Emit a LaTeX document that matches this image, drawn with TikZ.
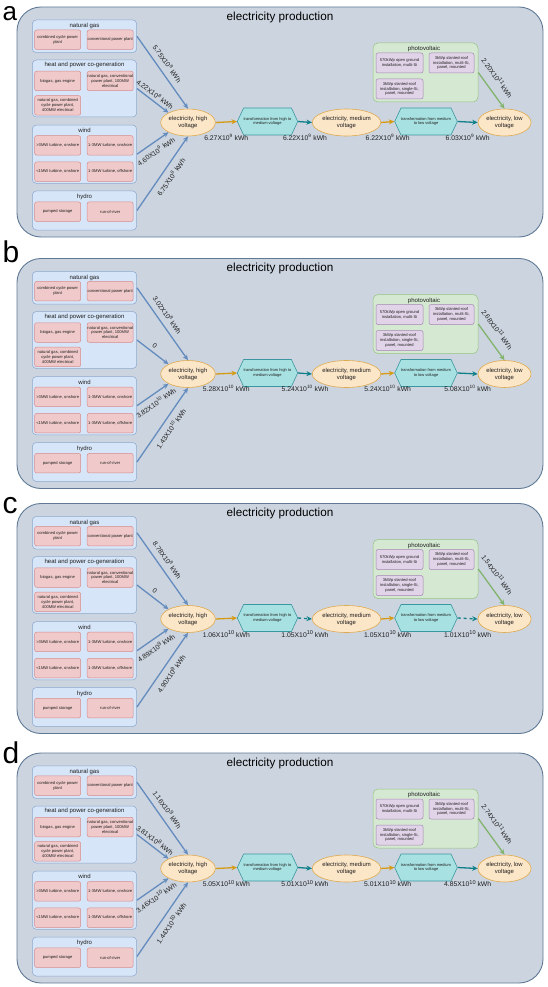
\documentclass[tikz,border=0pt]{standalone}
\usepackage{fontspec}
\setmainfont{Liberation Sans}
\usetikzlibrary{arrows.meta,shapes.geometric,shapes.symbols}
\definecolor{frameFill}{RGB}{204,212,223}
\definecolor{frameDraw}{RGB}{96,122,150}
\definecolor{grpFill}{RGB}{214,229,247}
\definecolor{grpDraw}{RGB}{140,168,205}
\definecolor{redFill}{RGB}{240,202,202}
\definecolor{redDraw}{RGB}{214,140,140}
\definecolor{pvFill}{RGB}{212,232,210}
\definecolor{pvDraw}{RGB}{150,195,130}
\definecolor{purFill}{RGB}{225,212,232}
\definecolor{purDraw}{RGB}{165,135,180}
\definecolor{ellFill}{RGB}{252,230,200}
\definecolor{ellDraw}{RGB}{222,170,80}
\definecolor{hexFill}{RGB}{168,225,226}
\definecolor{hexDraw}{RGB}{60,150,160}
\definecolor{arrBlue}{RGB}{100,140,190}
\definecolor{arrOrange}{RGB}{214,155,20}
\definecolor{arrTeal}{RGB}{16,128,136}
\definecolor{arrGreen}{RGB}{130,180,110}
\definecolor{txt}{RGB}{30,30,30}
\newcommand{\myexp}[1]{\textsuperscript{#1}}
\newcommand{\myexpB}[1]{\raisebox{2.6pt}{\fontsize{5.6}{6}\selectfont #1}}
\tikzset{
 frame/.style={draw=frameDraw, fill=frameFill, line width=0.9pt, rounded corners=24pt, minimum width=526pt, minimum height=230pt, inner sep=0pt},
 ptitle/.style={font=\fontsize{11.7}{14}\selectfont, inner sep=0pt, text=black},
 plet/.style={font=\fontsize{30}{30}\selectfont, inner sep=0pt, anchor=base west, text=black},
 grp/.style={draw=grpDraw, fill=grpFill, line width=0.5pt, rounded corners=4pt, minimum width=104.4pt, inner sep=0pt},
 gtitle/.style={font=\fontsize{6}{7}\selectfont, inner sep=0pt, text=txt},
 rbox/.style={draw=redDraw, fill=redFill, line width=0.5pt, rounded corners=2pt, minimum width=46pt, minimum height=19.5pt, inner sep=0pt, align=center, font=\fontsize{4.1}{4.9}\selectfont, text=txt},
 pbox/.style={rbox, draw=purDraw, fill=purFill, minimum height=20pt},
 pvgrp/.style={draw=pvDraw, fill=pvFill, line width=0.5pt, rounded corners=5pt, minimum width=105pt, minimum height=59pt, inner sep=0pt},
 ell/.style={ellipse, draw=ellDraw, fill=ellFill, line width=0.6pt, minimum width=52pt, minimum height=27pt, inner sep=0pt, align=center, font=\fontsize{5.9}{7}\selectfont, text=txt},
 hexa/.style={signal, signal to=east and west, signal pointer angle=130, draw=hexDraw, fill=hexFill, line width=0.6pt, minimum width=51pt, minimum height=27pt, inner sep=0pt, align=center, font=\fontsize{4}{4.8}\selectfont, text=txt},
 conn/.style={line width=1.3pt, -{Stealth[length=5.5pt,width=5pt]}},
 bluearr/.style={conn, draw=arrBlue},
 orangearr/.style={conn, draw=arrOrange},
 tealarr/.style={conn, draw=arrTeal},
 greenarr/.style={conn, draw=arrGreen},
 lbl/.style={font=\fontsize{6.8}{8}\selectfont, inner sep=0.5pt, text=txt},
}
\newcommand{\drawpanel}[2]{%
\begin{scope}[yshift=-#2pt]
\node[frame] (#1-frame) at (280,122) {};
\node[ptitle] (#1-title) at (280,17) {electricity production};
% natural gas
\node[grp, minimum height=32.7pt] (#1-ng) at (84.5,36.3) {};
\node[gtitle] (#1-ngt) at (84.5,26) {natural gas};
\node[rbox] (#1-ng1) at (57.7,39.7) {combined cycle power\\plant};
\node[rbox] (#1-ng2) at (110.2,39.7) {conventional power plant};
% heat and power
\node[grp, minimum height=57pt] (#1-hp) at (84.5,88.5) {};
\node[gtitle] (#1-hpt) at (84.5,65.3) {heat and power co-generation};
\node[rbox] (#1-hp1) at (57.7,81) {biogas, gas engine};
\node[rbox] (#1-hp2) at (110.2,81) {natural gas, conventional\\power plant, 100MW\\electrical};
\node[rbox] (#1-hp3) at (57.7,105.4) {natural gas, combined\\cycle power plant,\\400MW electrical};
% wind
\node[grp, minimum height=58.3pt] (#1-wind) at (84.5,154.2) {};
\node[gtitle] (#1-windt) at (84.5,130.7) {wind};
\node[rbox] (#1-w1) at (57.7,145.4) {>3MW turbine, onshore};
\node[rbox] (#1-w2) at (110.2,145.4) {1-3MW turbine, onshore};
\node[rbox] (#1-w3) at (57.7,171.7) {<1MW turbine, onshore};
\node[rbox] (#1-w4) at (110.2,171.7) {1-3MW turbine, offshore};
% hydro
\node[grp, minimum height=39pt] (#1-hydro) at (84.5,210.5) {};
\node[gtitle] (#1-hydrot) at (84.5,197.3) {hydro};
\node[rbox] (#1-hy1) at (57.7,211.7) {pumped storage};
\node[rbox] (#1-hy2) at (110.2,211.7) {run-of-river};
% photovoltaic
\node[pvgrp] (#1-pv) at (425.5,72.5) {};
\node[gtitle] (#1-pvt) at (424,49) {photovoltaic};
\node[pbox, minimum width=47pt] (#1-pv1) at (399.5,63) {570kWp open ground\\installation, multi-Si};
\node[pbox, minimum width=45pt] (#1-pv2) at (451.5,63) {3kWp slanted-roof\\installation, multi-Si,\\panel, mounted};
\node[pbox, minimum width=47pt] (#1-pv3) at (399.5,89) {3kWp slanted-roof\\installation, single-Si,\\panel, mounted};
% chain
\node[ell] (#1-hv) at (188,122.5) {electricity, high\\voltage};
\node[hexa] (#1-hx1) at (267.5,121.5) {transformation from high to\\medium voltage};
\node[ell] (#1-mv) at (346.5,122.5) {electricity, medium\\voltage};
\node[hexa] (#1-hx2) at (426,121.5) {transformation from medium\\to low voltage};
\node[ell, minimum width=53pt] (#1-lv) at (504.5,122.5) {electricity, low\\voltage};
% connectors
\draw[bluearr] (#1-ng.east) -- node[lbl, sloped, pos=0.45, above=5pt] {\Lng} (#1-hv.north);
\draw[bluearr] (#1-hp.east) -- node[lbl, sloped, pos=0.45, above=2.5pt] {\Lhp} (#1-hv.north west);
\draw[bluearr] (#1-wind.east) -- node[lbl, sloped, pos=0.45, below=4pt] {\Lwind} (#1-hv.south west);
\draw[bluearr] (#1-hydro.east) -- node[lbl, sloped, pos=0.52, below=4.5pt] {\Lhydro} (#1-hv.south);
\draw[orangearr] (#1-hv.east) -- node[lbl, below=11pt] {\LbA} (#1-hx1.west);
\draw[tealarr] (#1-hx1.east) -- node[lbl, below=11pt] {\LbB} (#1-mv.west);
\draw[orangearr] (#1-mv.east) -- node[lbl, below=11pt] {\LbC} (#1-hx2.west);
\draw[tealarr] (#1-hx2.east) -- node[lbl, below=11pt] {\LbD} (#1-lv.west);
\draw[greenarr] (#1-pv.east) -- node[lbl, sloped, pos=0.35, above=8pt] {\Lpv} (#1-lv.north);
\end{scope}}
\begin{document}
\begin{tikzpicture}[x=1pt,y=-1pt]
\useasboundingbox (0,0) rectangle (547,987);
% panel a
\node[plet, font=\fontsize{26}{26}\selectfont, text height=14pt] (la) at (2.5,21) {a};
\def\Lng{5.75X10\myexp{8} kWh}\def\Lhp{4.22X10\myexp{8} kWh}\def\Lwind{4.60X10\myexp{9} kWh}\def\Lhydro{6.75X10\myexp{8} kWh}
\def\LbA{6.27X10\myexp{9} kWh}\def\LbB{6.22X10\myexp{9} kWh}\def\LbC{6.22X10\myexp{9} kWh}\def\LbD{6.03X10\myexp{9} kWh}
\def\Lpv{2.20X10\myexpB{11} kWh}
\drawpanel{a}{0}
% panel b
\node[plet] (lb) at (2.5,262) {b};
\def\Lng{3.02X10\myexp{8} kWh}\def\Lhp{0}\def\Lwind{3.82X10\myexp{10} kWh}\def\Lhydro{1.43X10\myexp{10} kWh}
\def\LbA{5.28X10\myexp{10} kWh}\def\LbB{5.24X10\myexp{10} kWh}\def\LbC{5.24X10\myexp{10} kWh}\def\LbD{5.08X10\myexp{10} kWh}
\def\Lpv{2.68X10\myexpB{11} kWh}
\drawpanel{b}{251.5}
% panel c
\node[plet] (lc) at (2.5,513) {c};
\def\Lng{8.78X10\myexp{8} kWh}\def\Lhp{0}\def\Lwind{4.89X10\myexpB{9} kWh}\def\Lhydro{4.90X10\myexpB{9} kWh}
\def\LbA{1.06X10\myexpB{10} kWh}\def\LbB{1.05X10\myexpB{10} kWh}\def\LbC{1.05X10\myexpB{10} kWh}\def\LbD{1.01X10\myexpB{10} kWh}
\def\Lpv{1.54X10\myexpB{11} kWh}
\begingroup
\tikzset{tealarr/.style={conn, draw=arrTeal, dashed}}
\drawpanel{c}{496.5}
\endgroup
% panel d
\node[plet] (ld) at (2.5,763) {d};
\def\Lng{1.16X10\myexpB{9} kWh}\def\Lhp{3.81X10\myexpB{8} kWh}\def\Lwind{3.46X10\myexpB{10} kWh}\def\Lhydro{1.44X10\myexpB{10} kWh}
\def\LbA{5.05X10\myexpB{10} kWh}\def\LbB{5.01X10\myexpB{10} kWh}\def\LbC{5.01X10\myexpB{10} kWh}\def\LbD{4.85X10\myexpB{10} kWh}
\def\Lpv{2.74X10\myexpB{11} kWh}
\drawpanel{d}{746}
\end{tikzpicture}
\end{document}
